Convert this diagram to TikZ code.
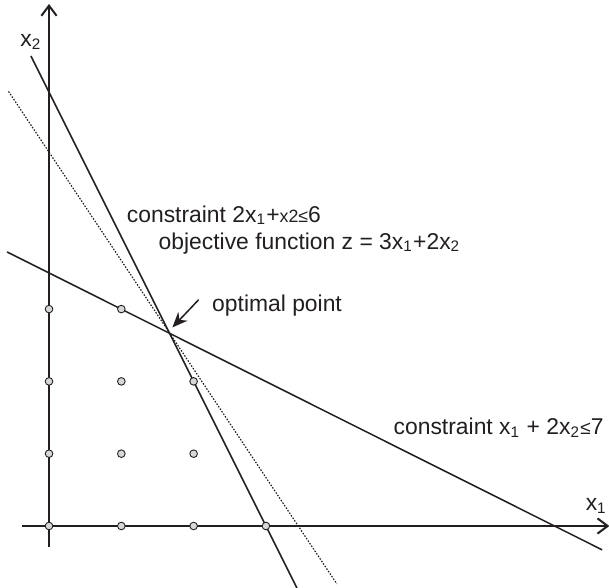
\documentclass[tikz,border=0pt]{standalone}
\usepackage{fontspec}
\setmainfont{Liberation Sans}
\usetikzlibrary{arrows.meta,positioning}
\definecolor{lpInk} {RGB}{ 35, 31, 32}
\definecolor{lpDotL}{RGB}{215,215,215}
\newcommand{\sub}[1]{\textsubscript{#1}}

\begin{document}
\begin{tikzpicture}[
  every node/.style={font=\fontsize{9}{11}\selectfont,text=lpInk,inner sep=0pt},
  axis/.style={draw=lpInk,line width=0.8pt,-{Straight Barb[length=4pt,width=6pt]}},
  cline/.style={draw=lpInk,line width=0.6pt},
  objline/.style={draw=lpInk,line width=0.45pt,dash pattern=on 0.6pt off 0.6pt},
  lattice/.style={draw=lpInk,fill=lpDotL,line width=0.35pt,circle,minimum size=3pt},
  lbl/.style={anchor=west}
]
\useasboundingbox (-0.678,-0.844) rectangle (7.745,7.275);

% axes
\draw[axis] (-0.37,0) -- (7.75,0);
\draw[axis] (0,-0.29) -- (0,7.22);
\node (xa) at (7.57,0.28) {x\sub{1}};
\node (ya) at (-0.25,6.69) {x\sub{2}};

% constraints and objective
\draw[cline]   (-0.25,6.50) -- (3.43,-0.86);
\draw[cline]   (-0.58,3.79) -- (7.65,-0.33);
\draw[objline] (-0.56,6.01) -- (3.98,-0.80);

% integer points
\foreach \p/\q in {0/0,1/0,2/0,3/0,0/1,1/1,2/1,0/2,1/2,2/2,0/3,1/3}
  \node[lattice] (g\p\q) at (\p,\q) {};

\coordinate (opt) at (5/3,8/3);

% labels
\node[lbl] (c1)  at (1.07,4.30) {constraint 2x\sub{1}+{\fontsize{7}{9}\selectfont x2≤}6};
\node[lbl] (obj) at (1.51,3.91) {objective function z = 3x\sub{1}+2x\sub{2}};
\node[lbl] (op)  at (2.25,3.05) {optimal point};
\node[lbl] (c2)  at (4.76,1.36) {constraint x\sub{1} + 2x\sub{2}{\fontsize{7.5}{9}\selectfont ≤}7};

\draw[-{Stealth[length=6pt,width=5pt]},line width=0.6pt,lpInk]
  ([xshift=-1.8mm,yshift=0.8mm]op.west) -- ([xshift=0.4mm,yshift=0.8mm]opt);
\end{tikzpicture}
\end{document}
